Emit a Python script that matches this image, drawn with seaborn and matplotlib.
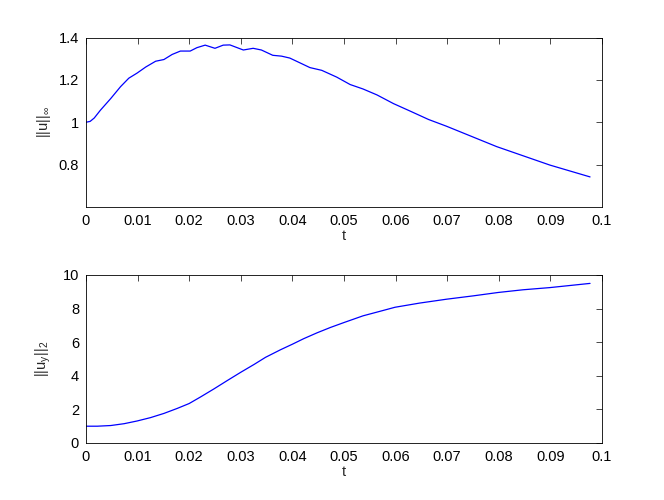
import numpy as np
import pandas as pd
import matplotlib
matplotlib.use('Agg')
import matplotlib.pyplot as plt
from matplotlib.ticker import FormatStrFormatter
import seaborn as sns

sns.set_style('white')
plt.rcParams['font.family'] = ['Liberation Sans', 'DejaVu Sans']
plt.rcParams['mathtext.fontset'] = 'custom'
plt.rcParams['mathtext.rm'] = 'Liberation Sans'
plt.rcParams['mathtext.it'] = 'Liberation Sans'

### sup norm of u over time
t_inf = [0, 0.0008, 0.0016, 0.0028, 0.0048, 0.0067, 0.0083, 0.0099, 0.0116, 0.0135,
         0.0151, 0.0167, 0.0183, 0.0202, 0.0215, 0.0231, 0.0250, 0.0266,
         0.0279, 0.0305, 0.0324, 0.0340, 0.0362, 0.0379, 0.0395, 0.0415,
         0.0434, 0.0457, 0.0486, 0.0512, 0.0537, 0.0564, 0.0596, 0.0628,
         0.0664, 0.0699, 0.0796, 0.0899, 0.0977]
u_inf = [1.0, 1.004, 1.02, 1.057, 1.112, 1.168, 1.208, 1.232, 1.261, 1.288,
         1.296, 1.320, 1.336, 1.336, 1.352, 1.364, 1.349, 1.364,
         1.365, 1.341, 1.349, 1.341, 1.316, 1.312, 1.303, 1.280,
         1.258, 1.245, 1.213, 1.178, 1.157, 1.129, 1.088, 1.053,
         1.013, 0.981, 0.885, 0.798, 0.742]

### L2 norm of u_y over time
t_l2 = [0, 0.0022, 0.0048, 0.0074, 0.0099, 0.0125, 0.0151, 0.0177, 0.020,
        0.0222, 0.0248, 0.0274, 0.030, 0.0326, 0.0348, 0.0377, 0.040,
        0.0422, 0.0448, 0.0474, 0.050, 0.0537, 0.057, 0.0599, 0.0647,
        0.0699, 0.0751, 0.0799, 0.0847, 0.0899, 0.0977]
uy_l2 = [1.0, 1.0, 1.04, 1.15, 1.31, 1.51, 1.76, 2.06, 2.35,
         2.74, 3.22, 3.72, 4.21, 4.68, 5.1, 5.55, 5.88,
         6.21, 6.56, 6.88, 7.17, 7.57, 7.84, 8.08, 8.33,
         8.56, 8.76, 8.96, 9.12, 9.25, 9.5]

xticks = [0, 0.01, 0.02, 0.03, 0.04, 0.05, 0.06, 0.07, 0.08, 0.09, 0.1]

fig = plt.figure(figsize=(6.64, 5.0), dpi=100)
ax1 = fig.add_axes([0.1295, 0.586, 0.777, 0.339])
ax2 = fig.add_axes([0.1295, 0.114, 0.777, 0.336])

sns.lineplot(x=t_inf, y=u_inf, color='#0000ff', linewidth=0.9, ax=ax1)
sns.lineplot(x=t_l2, y=uy_l2, color='#0000ff', linewidth=0.9, ax=ax2)

ax1.set_ylim(0.6, 1.4)
ax1.set_yticks([0.8, 1.0, 1.2, 1.4])
ax1.set_ylabel('||u||$_\\infty$', fontsize=10.5, labelpad=4)
ax2.set_ylim(0, 10)
ax2.set_yticks([0, 2, 4, 6, 8, 10])
ax2.set_ylabel('||u$_y$||$_2$', fontsize=10.5, labelpad=7)

for ax in (ax1, ax2):
    ax.set_xlim(0, 0.1)
    ax.set_xticks(xticks)
    ax.xaxis.set_major_formatter(FormatStrFormatter('%g'))
    ax.yaxis.set_major_formatter(FormatStrFormatter('%g'))
    ax.set_xlabel('t', fontsize=10.5, labelpad=1)
    ax.tick_params(direction='in', length=4, width=0.5, top=True, right=True,
                   labelsize=10.5, pad=5, colors='black')
    for s in ax.spines.values():
        s.set_color('black')
        s.set_linewidth(0.6)

fig.savefig('out.png', dpi=100)
